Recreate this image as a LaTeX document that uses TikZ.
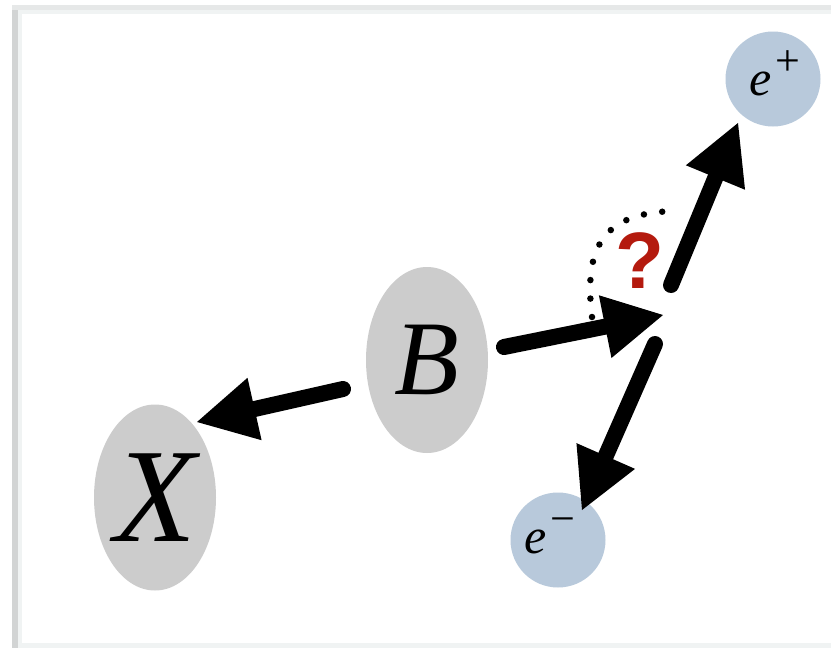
\documentclass[tikz,border=0pt]{standalone}
\usepackage{fontspec}
\setmainfont{Liberation Serif}
\newfontfamily\qfont{Liberation Sans}
\usetikzlibrary{arrows.meta,shapes.geometric}
\definecolor{ellgray}{HTML}{CCCCCC}
\definecolor{lepblue}{HTML}{B8C9DB}
\definecolor{qred}{HTML}{B41A0E}
\definecolor{cardstrip}{HTML}{F0F3F3}
\definecolor{cardedge}{HTML}{D2D4D4}
\definecolor{cardtop}{HTML}{E6E8E8}
\tikzset{
  hadron/.style={ellipse, fill=ellgray, inner sep=0pt, minimum width=122pt, minimum height=186pt},
  lepton/.style={circle, fill=lepblue, inner sep=0pt, minimum size=95pt},
  bigletter/.style={inner sep=0pt, font=\itshape},
  arr/.style={line width=16pt, line cap=round, -{Triangle[length=59pt,width=64pt,line width=0pt]}},
  dotarc/.style={line width=6.5pt, line cap=round, dash pattern=on 0pt off 18.5pt},
}
\newcommand\lepchg[1]{{\fontsize{50}{50}\selectfont\itshape e}\hspace{4pt}\raisebox{20pt}{\fontsize{44}{44}\selectfont #1}}
\begin{document}
\begin{tikzpicture}[x=1pt,y=-1pt]
\useasboundingbox (0,0) rectangle (831,648);
% card
\fill[white] (0,0) rectangle (831,648);
\fill[cardtop] (12,5) rectangle (831,648);
\fill[cardedge] (12,10) rectangle (18,648);
\fill[cardstrip] (18,10) rectangle (831,648);
\fill[white] (22,14) rectangle (831,643);
% nodes
\node[hadron] (B) at (427,360) {};
\node[bigletter, font=\fontsize{106}{106}\selectfont\itshape] at (B) {B};
\node[hadron] (X) at (155,497.5) {};
\node[bigletter, font=\fontsize{134}{134}\selectfont\itshape] at (X) {X};
\node[lepton] (ep) at (773,79) {};
\node[anchor=base west, inner sep=0pt] (eplab) at (749,95) {\lepchg{+}};
\node[lepton] (em) at (558,540) {};
\node[anchor=base west, inner sep=0pt] (emlab) at (524,553.5) {\lepchg{−}};
\node[inner sep=0pt, text=qred, font=\fontsize{80}{80}\selectfont\qfont\bfseries] (q) at (640,261) {?};
% connector end points
\coordinate (bxs) at (343,389);
\coordinate (bxt) at (197,422);
\coordinate (bvs) at (504,347);
\coordinate (V) at (663,315);
\coordinate (ems) at (655,344);
\coordinate (emt) at (582,510);
\coordinate (eps) at (671,285);
\coordinate (ept) at (738,123);
\coordinate (arcs) at (592,317);
\coordinate (arce) at (677,211);
% arrows
\draw[arr] (bxs) -- (bxt);
\draw[arr] (bvs) -- (V);
\draw[arr] (ems) -- (emt);
\draw[arr] (eps) -- (ept);
% dotted arc
\draw[dotarc] (arcs) .. controls (584,250) and (600,212) .. (arce);
\end{tikzpicture}
\end{document}
